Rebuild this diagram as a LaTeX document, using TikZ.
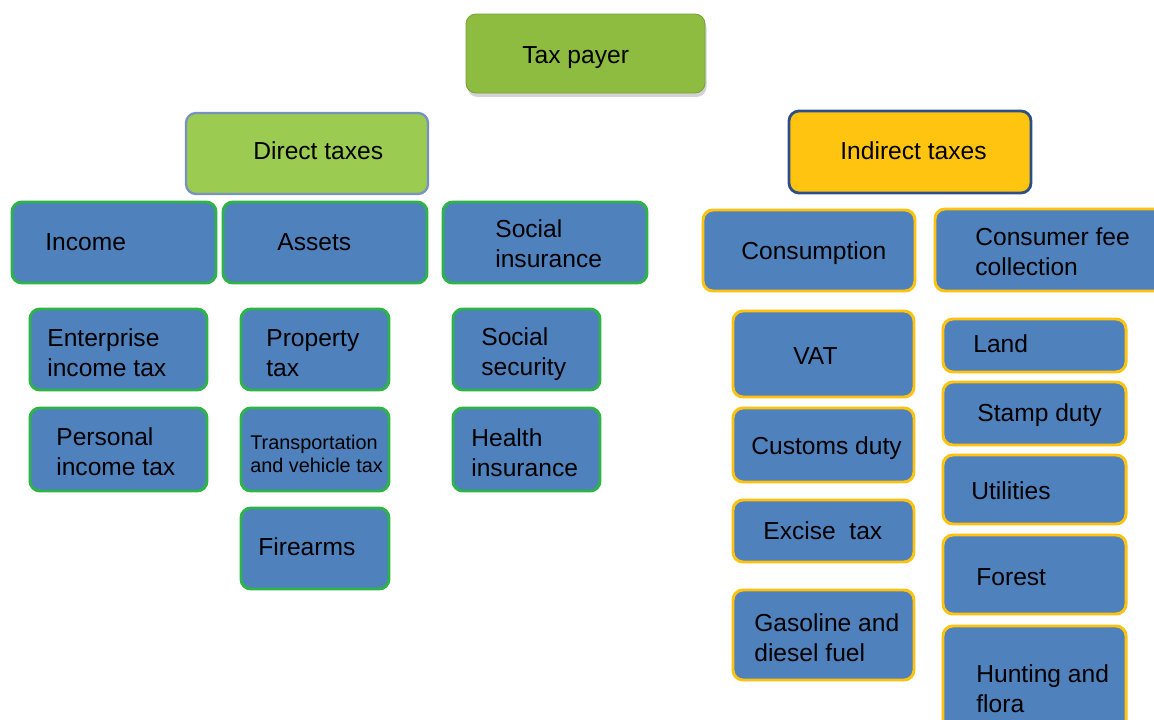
\documentclass[tikz,border=0pt]{standalone}
\usepackage{fontspec}
\setmainfont{Liberation Sans}
\usetikzlibrary{shadows}
\definecolor{payergreen}{HTML}{8DBC40}
\definecolor{directgreen}{HTML}{9BCB50}
\definecolor{directedge}{HTML}{7792C2}
\definecolor{indirectyellow}{HTML}{FFC40F}
\definecolor{indirectedge}{HTML}{2E4E86}
\definecolor{leafblue}{HTML}{4F81BD}
\definecolor{leafgreen}{HTML}{2DB34A}
\definecolor{leafyellow}{HTML}{FFC20E}
% box from (x1,y1) to (x2,y2) in pixels, text placed at (tx,ty)
\newcommand{\taxbox}[9]{%
\node[#1,minimum width={(#5-#3)*0.02cm},minimum height={(#6-#4)*0.02cm}] (#2) at ({(#3+#5)/2},{(#4+#6)/2}) {};
\node[txt,anchor=west] (#2-t) at (#7,#8) {#9};}
\begin{document}
\begin{tikzpicture}[x=0.02cm,y=-0.02cm,
box/.style={shape=rectangle,rounded corners=0.2cm,inner sep=0pt},
payer/.style={box,fill=payergreen,draw=payergreen!85!black,line width=0.5pt,drop shadow={opacity=0.35,shadow xshift=0.03cm,shadow yshift=-0.08cm}},
direct/.style={box,fill=directgreen,draw=directedge,line width=1.3pt},
indirect/.style={box,fill=indirectyellow,draw=indirectedge,line width=1.6pt},
leafG/.style={box,fill=leafblue,draw=leafgreen,line width=1.7pt},
leafY/.style={box,fill=leafblue,draw=leafyellow,line width=1.7pt},
txt/.style={inner sep=0pt,align=left,font=\fontsize{14}{17}\selectfont},
smalltxt/.style={txt,font=\fontsize{11.3}{13.2}\selectfont}]
\useasboundingbox (0,0) rectangle (1154,720);
\clip (0,0) rectangle (1154,720);

\taxbox{payer}{payer}{466}{14}{705}{93}{522}{58}{Tax payer}
\taxbox{direct}{dir}{186}{113}{428}{194}{253}{151}{Direct taxes}
\taxbox{indirect}{ind}{789}{111}{1031}{193}{840}{151}{Indirect taxes}

% direct taxes
\taxbox{leafG}{inc}{12}{202}{216}{283}{45}{242}{Income}
\taxbox{leafG}{ass}{223}{202}{427}{283}{277}{242}{Assets}
\taxbox{leafG}{soc}{443}{202}{647}{283}{495}{244}{Social\\insurance}
\taxbox{leafG}{ent}{30}{309}{207}{390}{47}{353}{Enterprise\\income tax}
\taxbox{leafG}{per}{30}{408}{207}{491}{56}{452}{Personal\\income tax}
\taxbox{leafG}{pro}{241}{309}{389}{390}{266}{353}{Property\\tax}
\node[leafG,minimum width={148*0.02cm},minimum height={83*0.02cm}] (tra) at (315,449.5) {};
\node[smalltxt,anchor=west] (tra-t) at (250,454) {Transportation\\and vehicle tax};
\taxbox{leafG}{fir}{241}{508}{389}{589}{258}{547}{Firearms}
\taxbox{leafG}{sec}{453}{309}{600}{390}{481}{354}{Social\\security}
\taxbox{leafG}{hea}{453}{408}{600}{491}{471}{453}{Health\\insurance}

% indirect taxes
\taxbox{leafY}{con}{703}{210}{915}{291}{741}{253}{Consumption}
\taxbox{leafY}{fee}{935}{209}{1170}{291}{975}{252}{Consumer fee\\collection}
\taxbox{leafY}{vat}{733}{311}{914}{397}{793}{356}{VAT}
\taxbox{leafY}{cus}{733}{408}{914}{482}{751}{448}{Customs duty}
\taxbox{leafY}{exc}{733}{500}{914}{562}{763}{531}{Excise\ \ tax}
\taxbox{leafY}{gas}{733}{590}{914}{680}{754}{638}{Gasoline and\\diesel fuel}
\taxbox{leafY}{lan}{943}{319}{1126}{372}{973}{344}{Land}
\taxbox{leafY}{sta}{943}{382}{1126}{445}{977}{415}{Stamp duty}
\taxbox{leafY}{uti}{943}{455}{1126}{524}{971}{491}{Utilities}
\taxbox{leafY}{for}{943}{535}{1126}{614}{976}{577}{Forest}
\taxbox{leafY}{hun}{943}{626}{1126}{740}{976}{689}{Hunting and\\flora}
\end{tikzpicture}
\end{document}
